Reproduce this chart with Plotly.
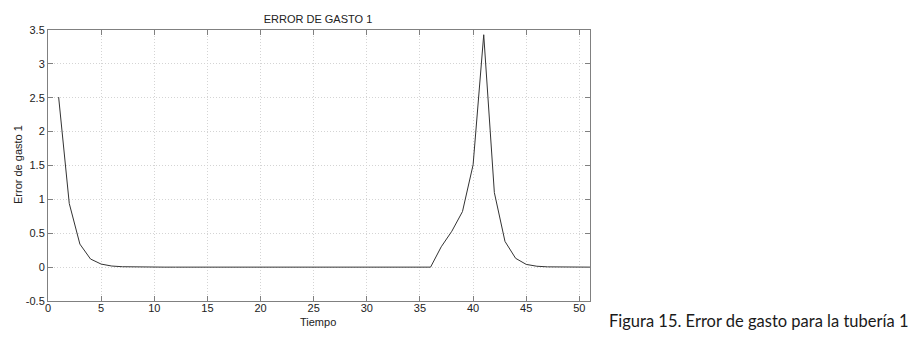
import plotly.graph_objects as go

tiempo = list(range(1, 52))
error_gasto = [2.51, 0.94, 0.34, 0.12, 0.045, 0.016, 0.006, 0.002, 0.001, 0.0,
               0.0, 0.0, 0.0, 0.0, 0.0, 0.0, 0.0, 0.0, 0.0, 0.0,
               0.0, 0.0, 0.0, 0.0, 0.0, 0.0, 0.0, 0.0, 0.0, 0.0,
               0.0, 0.0, 0.0, 0.0, 0.0, 0.0, 0.30, 0.53, 0.82, 1.51,
               3.43, 1.10, 0.38, 0.13, 0.04, 0.013, 0.004, 0.001, 0.0, 0.0, 0.0]
x_ticks = [0, 5, 10, 15, 20, 25, 30, 35, 40, 45, 50]
y_ticks = [-0.5, 0, 0.5, 1, 1.5, 2, 2.5, 3, 3.5]
y_labels = ["-0.5", "0", "0.5", "1", "1.5", "2", "2.5", "3", "3.5"]

# page body has an 8px margin; figure coordinates are page coordinates minus 8
OFF = 8
W, H = 900, 324
L, T = 48 - OFF, 30 - OFF
R = W - (590 - OFF)
B = H - (301 - OFF)
PW, PH = W - L - R, H - T - B

def px(xpage):
    return (xpage - OFF - L) / PW

def py(ypage):
    return 1 - (ypage - OFF - T) / PH

font_axes = dict(family="Liberation Sans, Arial", size=11, color="#222")

axis_common = dict(showline=True, linecolor="#808080", linewidth=1, mirror="ticks",
                   ticks="inside", ticklen=5, tickcolor="#808080",
                   showgrid=True, gridcolor="#d4d4d4", griddash="1px,2px", gridwidth=1,
                   zeroline=False, automargin=False, tickfont=font_axes)

fig = go.Figure()
fig.add_trace(go.Scatter(x=tiempo, y=error_gasto, mode="lines",
                         line=dict(color="#333333", width=1), showlegend=False))

fig.update_layout(
    width=W, height=H,
    margin=dict(l=L, r=R, t=T, b=B),
    paper_bgcolor="white", plot_bgcolor="white",
    title=dict(text="ERROR DE GASTO 1", x=(318 - OFF) / W, xanchor="center",
               y=1 - (19 - OFF) / H, yanchor="middle", font=font_axes),
    xaxis=dict(range=[0, 51], tickvals=x_ticks, ticklabelstandoff=-3, **axis_common),
    yaxis=dict(range=[-0.5, 3.5], tickvals=y_ticks, ticktext=y_labels, **axis_common),
)

fig.add_annotation(text="Tiempo", xref="paper", yref="paper", x=px(318), y=py(322),
                   xanchor="center", yanchor="middle", showarrow=False, font=font_axes)
fig.add_annotation(text="Error de gasto 1", xref="paper", yref="paper", x=px(18), y=py(165),
                   xanchor="center", yanchor="middle", textangle=-90, showarrow=False, font=font_axes)
fig.add_annotation(text="Figura 15. Error de gasto para la tubería 1", xref="paper", yref="paper",
                   x=px(607), y=py(321), xanchor="left", yanchor="middle",
                   showarrow=False, font=dict(family="Lato, Noto Sans", size=16.5, color="#1a1a1a"))

fig.write_html("out.html")
